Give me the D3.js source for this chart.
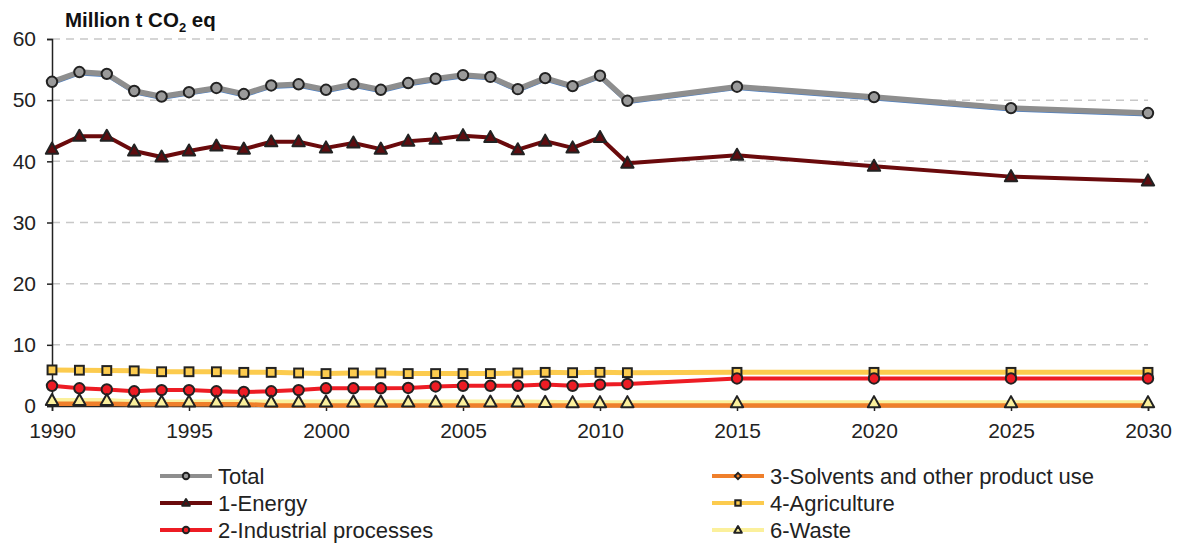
<!DOCTYPE html>
<html><head><meta charset="utf-8">
<script src="https://cdn.jsdelivr.net/npm/d3@7"></script>
<style>body{margin:0;background:#fff}svg{display:block;font-family:"Liberation Sans",Arial,sans-serif}</style>
</head><body><svg id="c" width="1184" height="548"></svg>
<script>
const years = [1990,1991,1992,1993,1994,1995,1996,1997,1998,1999,2000,2001,2002,2003,2004,2005,2006,2007,2008,2009,2010,2011,2015,2020,2025,2030];
const total = [53.0,54.6,54.3,51.5,50.6,51.3,52.0,51.0,52.4,52.6,51.7,52.6,51.7,52.8,53.5,54.1,53.8,51.8,53.6,52.3,54.0,49.9,52.2,50.5,48.7,47.9];
const energy = [42.0,44.1,44.1,41.7,40.7,41.7,42.5,42.0,43.2,43.2,42.2,43.0,42.0,43.3,43.6,44.2,43.9,41.9,43.3,42.2,43.9,39.7,41.0,39.2,37.5,36.8];
const industrial = [3.3,2.9,2.7,2.4,2.6,2.6,2.4,2.3,2.4,2.6,2.9,2.9,2.9,2.95,3.2,3.3,3.3,3.3,3.5,3.3,3.5,3.6,4.5,4.5,4.5,4.5];
const solvents = [0.35,0.35,0.35,0.3,0.3,0.3,0.3,0.3,0.1,0.1,0.1,0.1,0.1,0.1,0.1,0.1,0.1,0.1,0.1,0.08,0.08,0.08,0.08,0.08,0.08,0.08];
const agriculture = [5.9,5.85,5.8,5.75,5.6,5.6,5.6,5.5,5.5,5.4,5.3,5.4,5.4,5.3,5.3,5.3,5.3,5.4,5.5,5.45,5.5,5.45,5.5,5.5,5.5,5.5];
const waste = [0.9,0.9,0.9,0.65,0.65,0.65,0.65,0.65,0.65,0.65,0.65,0.65,0.65,0.65,0.65,0.65,0.65,0.65,0.6,0.55,0.55,0.55,0.55,0.55,0.55,0.55];
const yTicks = [0,10,20,30,40,50,60];
const xTicks = [1990,1995,2000,2005,2010,2015,2020,2025,2030];
const minorYears = d3.range(1990,2031);
const seriesNames = ["Total","1-Energy","2-Industrial processes","3-Solvents and other product use","4-Agriculture","6-Waste"];

const svg = d3.select("#c");
const x = d3.scaleLinear().domain([1990,2030]).range([52,1148]);
const y = d3.scaleLinear().domain([0,60]).range([406,39]);
const FONT = "Liberation Sans, Arial, sans-serif";

// grid
svg.append("g").selectAll("line").data(yTicks.filter(d=>d>0)).join("line")
  .attr("x1",x(1990)).attr("x2",x(2030)).attr("y1",d=>y(d)).attr("y2",d=>y(d))
  .attr("stroke","#c8c8c8").attr("stroke-width",1.5).attr("stroke-dasharray","8,6");

// y axis
const ya = svg.append("g").attr("transform",`translate(${x(1990)},0)`)
  .call(d3.axisLeft(y).tickValues(yTicks).tickSize(5).tickPadding(11));
ya.select(".domain").attr("stroke","#222").attr("stroke-width",1.5);
ya.selectAll(".tick line").attr("stroke","#222").attr("stroke-width",1.5);
ya.selectAll("text").attr("font-size",21).attr("fill","#222").attr("font-family",FONT);

// x axis
const xa = svg.append("g").attr("transform",`translate(0,${y(0)})`)
  .call(d3.axisBottom(x).tickValues(xTicks).tickFormat(d3.format("d")).tickSize(5).tickPadding(12));
xa.select(".domain").attr("stroke","#222").attr("stroke-width",1.5);
xa.selectAll(".tick line").attr("stroke","#222").attr("stroke-width",1.5).attr("y1",-4);
xa.selectAll("text").attr("font-size",21).attr("fill","#222").attr("font-family",FONT);
svg.append("g").selectAll("line").data(minorYears.filter(d=>d%5!==0)).join("line")
  .attr("x1",d=>x(d)).attr("x2",d=>x(d)).attr("y1",y(0)-4).attr("y2",y(0)-2.5)
  .attr("stroke","#444").attr("stroke-width",1.2);

// title
const t = svg.append("text").attr("x",65).attr("y",27).attr("font-size",20.5).attr("font-weight","bold").attr("fill","#111");
t.append("tspan").text("Million t CO");
t.append("tspan").attr("font-size",13).attr("dy",5).text("2");
t.append("tspan").attr("dy",-5).text(" eq");

const series = [
  {name:seriesNames[5], vals:waste, color:"#fbf09c", w:5, marker:"tri", fill:"#fbf09c"},
  {name:seriesNames[4], vals:agriculture, color:"#fccb4e", w:5, marker:"sq", fill:"#fccb4e"},
  {name:seriesNames[3], vals:solvents, color:"#ef7f2b", w:4.5, marker:"none", fill:"#ef7f2b"},
  {name:seriesNames[2], vals:industrial, color:"#ed1c24", w:4, marker:"circ", fill:"#ed1c24"},
  {name:seriesNames[1], vals:energy, color:"#6a0a0c", w:4, marker:"tri", fill:"#5e0d10"},
  {name:seriesNames[0], vals:total, color:"#8e8e8e", w:5.5, marker:"circ", fill:"#9a9a9a"}
];
const line = d3.line().x((d,i)=>x(years[i])).y(d=>y(d));

// blue companion line for Total (drawn underneath)
svg.append("path").datum(total).attr("d",line).attr("fill","none")
  .attr("stroke","#4f81c4").attr("stroke-width",2.4).attr("transform","translate(0,2.2)");

function drawMarker(g, type, cx, cy, fill, size){
  if(type==="circ"){
    g.append("circle").attr("cx",cx).attr("cy",cy).attr("r",size).attr("fill",fill).attr("stroke","#222").attr("stroke-width",2);
  } else if(type==="tri"){
    const s=size*1.25;
    g.append("path").attr("d",`M${cx},${cy-s}L${cx+s*0.95},${cy+s*0.7}L${cx-s*0.95},${cy+s*0.7}Z`)
      .attr("fill",fill).attr("stroke","#222").attr("stroke-width",2).attr("stroke-linejoin","round");
  } else if(type==="sq"){
    const s=size*0.85;
    g.append("rect").attr("x",cx-s).attr("y",cy-s).attr("width",2*s).attr("height",2*s)
      .attr("fill",fill).attr("stroke","#222").attr("stroke-width",2);
  } else if(type==="dia"){
    const s=size;
    g.append("path").attr("d",`M${cx},${cy-s}L${cx+s},${cy}L${cx},${cy+s}L${cx-s},${cy}Z`)
      .attr("fill",fill).attr("stroke","#222").attr("stroke-width",1.8);
  }
}

series.forEach(s=>{
  svg.append("path").datum(s.vals).attr("d",line).attr("fill","none")
    .attr("stroke",s.color).attr("stroke-width",s.w).attr("stroke-linejoin","round");
});
const order = [series[2],series[1],series[3],series[4],series[5],series[0]];
order.forEach(s=>{
  const g=svg.append("g");
  s.vals.forEach((v,i)=>drawMarker(g,s.marker,x(years[i]),y(v),s.fill,5.2));
});

// legend
const legend = [
  {name:seriesNames[0], color:"#8e8e8e", marker:"circ", fill:"#9a9a9a", col:0, row:0},
  {name:seriesNames[1], color:"#6a0a0c", marker:"tri", fill:"#5e0d10", col:0, row:1},
  {name:seriesNames[2], color:"#ed1c24", marker:"circ", fill:"#ed1c24", col:0, row:2},
  {name:seriesNames[3], color:"#ef7f2b", marker:"dia", fill:"#ef7f2b", col:1, row:0},
  {name:seriesNames[4], color:"#fccb4e", marker:"sq", fill:"#fccb4e", col:1, row:1},
  {name:seriesNames[5], color:"#fbf09c", marker:"tri", fill:"#fbf09c", col:1, row:2}
];
const colX=[160,712], rowY=[476,503,530];
legend.forEach(l=>{
  const g=svg.append("g");
  const x0=colX[l.col], yy=rowY[l.row];
  g.append("line").attr("x1",x0).attr("x2",x0+52).attr("y1",yy).attr("y2",yy).attr("stroke",l.color).attr("stroke-width",4);
  drawMarker(g,l.marker,x0+26,yy,l.fill,3.2);
  g.append("text").attr("x",x0+58).attr("y",yy+8).attr("font-size",22).attr("fill","#222").attr("font-family",FONT).text(l.name);
});
</script></body></html>
